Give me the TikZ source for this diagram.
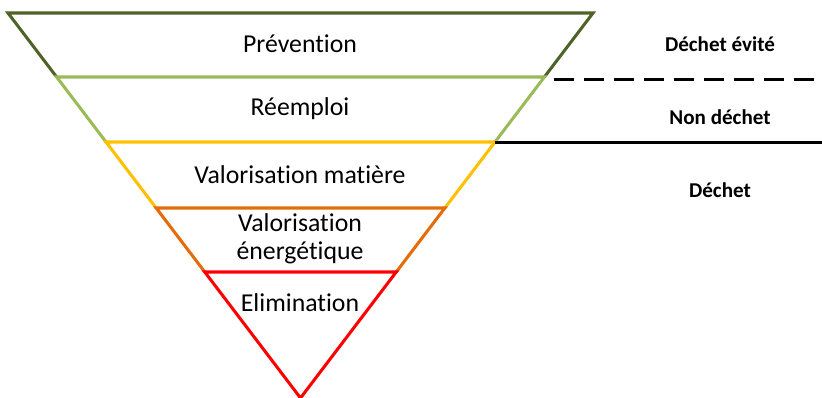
\documentclass[tikz,border=0pt]{standalone}
\usepackage{fontspec}
\setmainfont{Carlito}[Ligatures=NoCommon]
\usetikzlibrary{calc}

\definecolor{levelA}{RGB}{79,98,40}
\definecolor{levelB}{RGB}{155,187,89}
\definecolor{levelC}{RGB}{255,192,0}
\definecolor{levelD}{RGB}{228,108,10}
\definecolor{levelE}{RGB}{255,0,0}

\tikzset{
  band/.style={line width=2.6pt,line join=miter,line cap=butt},
  bandlabel/.style={font=\fontsize{22}{24}\selectfont,align=center,inner sep=0pt},
  statuslabel/.style={font=\fontsize{18}{22}\selectfont\bfseries,inner sep=0pt},
  divider/.style={line width=2.6pt,black}
}

\begin{document}
\begin{tikzpicture}[x=0.03cm,y=-0.03cm]
    \useasboundingbox (0,0) rectangle (822,398);
    \coordinate (TopLeft)   at (8,13);
    \coordinate (TopRight)  at (593,13);
    \coordinate (Apex)      at (300.5,398);
    \coordinate (RightEdge) at (822,0);

    \foreach \y [count=\i] in {13,77,142,208,272}{% corners of each level
      \coordinate (L\i) at ($(TopLeft)!{(\y-13)/385}!(Apex)$);
      \coordinate (R\i) at ($(TopRight)!{(\y-13)/385}!(Apex)$);
    }

    \foreach \i/\col in {1/levelA,2/levelB,3/levelC,4/levelD}{% one band per level
      \pgfmathtruncatemacro{\j}{\i+1}
      \draw[band,\col] (L\j) -- (L\i) -- (R\i) -- (R\j);
    }
    \draw[band,levelE] (Apex) -- (L5) -- (R5) -- cycle;

    % dividers on the right
    \draw[divider,dash pattern=on 0.6cm off 0.3cm,dash phase=0.6cm]
      ([yshift=-2.5pt]R2) -- ([yshift=-2.5pt]R2 -| RightEdge);
    \draw[divider] ([yshift=-0.5pt]R3) -- ([yshift=-0.5pt]R3 -| RightEdge);

    \node[bandlabel] (prevention)  at (300,44)  {Prévention};
    \node[bandlabel] (reemploi)    at (300,109) {Réemploi};
    \node[bandlabel] (matiere)     at (300,175) {Valorisation matière};
    \node[bandlabel] (energetique) at (300,239) {Valorisation\\énergétique};
    \node[bandlabel] (elimination) at (300,303) {Elimination};

    \node[statuslabel] (evite)     at (720,44)  {Déchet évité};
    \node[statuslabel] (nondechet) at (720,117) {Non déchet};
    \node[statuslabel] (dechet)    at (720,190) {Déchet};
\end{tikzpicture}
\end{document}
